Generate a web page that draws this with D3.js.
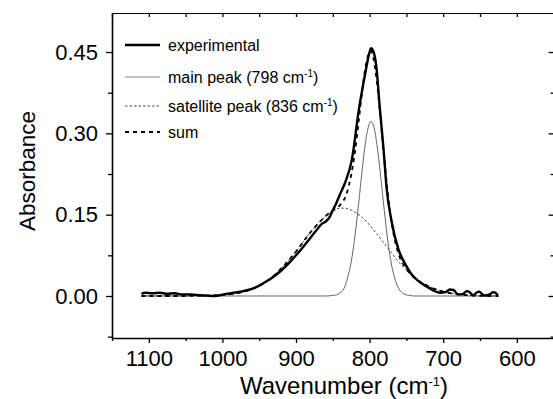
<!DOCTYPE html>
<html>
<head>
<meta charset="utf-8">
<script src="https://cdn.jsdelivr.net/npm/d3@7"></script>
<style>
  html, body { margin: 0; padding: 0; background: #fff; }
  svg text { font-family: "Liberation Sans", Arial, sans-serif; fill: #000; }
</style>
</head>
<body>
<svg id="chart"></svg>
<script>
const width = 553;
const height = 399;

// wavenumber (cm-1) / absorbance
const expWn = [1110, 1105, 1095, 1085, 1075, 1065, 1055, 1045, 1035, 1025, 1015, 1005, 995, 985, 975, 965, 958, 950, 940, 930, 920, 910, 900, 890, 880, 870, 865, 860, 855, 850, 845, 840, 833, 824, 815, 806, 800, 798, 795, 791, 786, 781, 777, 770, 761, 750, 743, 736, 729, 722, 713, 704, 697, 691, 686, 680, 673, 668, 664, 659, 655, 651, 647, 643, 637, 632, 629, 626];
const expAbs = [0.004, 0.006, 0.005, 0.006, 0.004, 0.005, 0.003, 0.003, 0.002, 0.001, 0.000, 0.001, 0.004, 0.006, 0.008, 0.011, 0.014, 0.019, 0.027, 0.036, 0.047, 0.060, 0.075, 0.091, 0.108, 0.125, 0.133, 0.137, 0.144, 0.158, 0.172, 0.188, 0.210, 0.252, 0.340, 0.410, 0.450, 0.457, 0.452, 0.425, 0.345, 0.270, 0.200, 0.137, 0.087, 0.055, 0.040, 0.030, 0.023, 0.017, 0.010, 0.006, 0.007, 0.012, 0.011, 0.003, 0.004, 0.009, 0.007, 0.001, 0.006, 0.008, 0.003, 0.001, 0.003, 0.007, 0.006, 0.001];

const mainWn = [1110, 900, 860, 850, 845, 840, 835, 830, 825, 820, 815, 810, 805, 800, 798, 795, 790, 785, 780, 775, 770, 765, 760, 755, 750, 745, 740, 700, 625];
const mainAbs = [0.000, 0.000, 0.000, 0.001, 0.002, 0.006, 0.013, 0.033, 0.063, 0.110, 0.169, 0.234, 0.289, 0.319, 0.322, 0.316, 0.279, 0.221, 0.157, 0.099, 0.056, 0.029, 0.013, 0.005, 0.002, 0.001, 0.000, 0.000, 0.000];

const satWn = [1110, 1050, 1020, 1000, 980, 960, 940, 920, 900, 880, 860, 850, 840, 836, 830, 820, 810, 800, 790, 780, 770, 760, 750, 740, 730, 720, 700, 680, 660, 640, 625];
const satAbs = [0.000, 0.000, 0.001, 0.002, 0.005, 0.013, 0.027, 0.051, 0.082, 0.118, 0.147, 0.157, 0.162, 0.162, 0.161, 0.155, 0.145, 0.131, 0.114, 0.097, 0.079, 0.062, 0.048, 0.035, 0.025, 0.018, 0.008, 0.003, 0.001, 0.000, 0.000];

const sumWn = [1110, 1080, 1050, 1020, 1000, 980, 960, 940, 920, 900, 880, 860, 850, 840, 830, 820, 815, 810, 805, 800, 798, 795, 790, 785, 780, 775, 770, 760, 750, 740, 730, 720, 700, 680, 660, 640, 625];
const sumAbs = [0.000, 0.000, 0.000, 0.001, 0.002, 0.005, 0.013, 0.027, 0.051, 0.082, 0.118, 0.147, 0.158, 0.168, 0.194, 0.265, 0.320, 0.379, 0.427, 0.450, 0.452, 0.440, 0.393, 0.326, 0.253, 0.187, 0.135, 0.075, 0.050, 0.035, 0.025, 0.018, 0.008, 0.003, 0.001, 0.000, 0.000];

const xMajor = [1100, 1000, 900, 800, 700, 600];
const xMinor = [1150, 1050, 950, 850, 750, 650, 550];
const yMajor = [0, 0.15, 0.30, 0.45];
const yMinor = [-0.075, 0.075, 0.225, 0.375];

const legendItems = ["experimental", "main peak (798 cm", "satellite peak (836 cm", "sum"];

const margin = {left: 112, top: 13, right: 553.6, bottom: 338};

const x = d3.scaleLinear().domain([1150, 550]).range([margin.left, margin.right]);
const y = d3.scaleLinear().domain([-0.0775, 0.522]).range([margin.bottom, margin.top]);

const svg = d3.select("#chart")
    .attr("width", width)
    .attr("height", height);

const zip = (a, b) => a.map((v, i) => [v, b[i]]);

const line = d3.line()
    .x(d => x(d[0]))
    .y(d => y(d[1]))
    .curve(d3.curveMonotoneX);

// curves
svg.append("path").datum(zip(mainWn, mainAbs))
    .attr("d", line).attr("fill", "none")
    .attr("stroke", "#555").attr("stroke-width", 0.9);

svg.append("path").datum(zip(satWn, satAbs))
    .attr("d", line).attr("fill", "none")
    .attr("stroke", "#333").attr("stroke-width", 0.9)
    .attr("stroke-dasharray", "2.5,2");

svg.append("path").datum(zip(expWn, expAbs))
    .attr("d", line).attr("fill", "none")
    .attr("stroke", "#000").attr("stroke-width", 2.4)
    .attr("stroke-linejoin", "round");

svg.append("path").datum(zip(sumWn, sumAbs))
    .attr("d", line).attr("fill", "none")
    .attr("stroke", "#000").attr("stroke-width", 1.8)
    .attr("stroke-dasharray", "4,4");

// axes
const fmt = d3.format(".2f");

const styleAxis = g => {
    g.select(".domain").attr("stroke", "#000").attr("stroke-width", 1.6);
    g.selectAll(".tick line").attr("stroke", "#000").attr("stroke-width", 1.3);
};

const bottom = svg.append("g").attr("transform", `translate(0,${margin.bottom})`)
    .call(d3.axisBottom(x).tickValues(xMajor).tickFormat(d3.format("d")).tickSize(5).tickSizeOuter(0).tickPadding(7))
    .call(styleAxis);
bottom.selectAll("text").attr("font-size", 22).attr("font-family", "Liberation Sans, Arial, sans-serif");
svg.append("g").attr("transform", `translate(0,${margin.bottom})`)
    .call(d3.axisBottom(x).tickValues(xMinor).tickSize(3).tickFormat(""))
    .call(g => g.select(".domain").remove())
    .call(styleAxis);

const left = svg.append("g").attr("transform", `translate(${margin.left},0)`)
    .call(d3.axisLeft(y).tickValues(yMajor).tickFormat(fmt).tickSize(6).tickSizeOuter(0).tickPadding(8))
    .call(styleAxis);
left.selectAll("text").attr("font-size", 22).attr("font-family", "Liberation Sans, Arial, sans-serif");
svg.append("g").attr("transform", `translate(${margin.left},0)`)
    .call(d3.axisLeft(y).tickValues(yMinor).tickSize(4).tickFormat(""))
    .call(g => g.select(".domain").remove())
    .call(styleAxis);

// top and right mirror axes, ticks pointing inward
svg.append("g").attr("transform", `translate(0,${margin.top})`)
    .call(d3.axisBottom(x).tickValues(xMajor.concat(xMinor)).tickSize(4).tickSizeOuter(0).tickFormat(""))
    .call(styleAxis)
    .call(g => g.select(".domain").attr("stroke-width", 1.2));

svg.append("g").attr("transform", `translate(${margin.right},0)`)
    .call(d3.axisLeft(y).tickValues(yMajor).tickSize(5).tickSizeOuter(0).tickFormat(""))
    .call(styleAxis);
svg.append("g").attr("transform", `translate(${margin.right},0)`)
    .call(d3.axisLeft(y).tickValues(yMinor).tickSize(3).tickFormat(""))
    .call(g => g.select(".domain").remove())
    .call(styleAxis);

// axis titles
const xt = svg.append("text")
    .attr("x", 344)
    .attr("y", 394)
    .attr("text-anchor", "middle")
    .attr("font-size", 24);
xt.append("tspan").text("Wavenumber (cm");
xt.append("tspan").attr("font-size", 13).attr("dy", -8).text("-1");
xt.append("tspan").attr("dy", 8).text(")");

svg.append("text")
    .attr("transform", "translate(35,171) rotate(-90)")
    .attr("text-anchor", "middle")
    .attr("font-size", 22.5)
    .text("Absorbance");

// legend
const legendY = [45, 77, 106, 132];
const legendStyles = [
    {stroke: "#000", w: 2.4, dash: null},
    {stroke: "#777", w: 0.9, dash: null},
    {stroke: "#333", w: 0.9, dash: "2.5,2"},
    {stroke: "#000", w: 1.8, dash: "4,4"}
];
const legend = svg.append("g");
legendItems.forEach((label, i) => {
    const st = legendStyles[i];
    legend.append("line")
        .attr("x1", 125).attr("x2", 160)
        .attr("y1", legendY[i]).attr("y2", legendY[i])
        .attr("stroke", st.stroke).attr("stroke-width", st.w)
        .attr("stroke-dasharray", st.dash);
    const t = legend.append("text")
        .attr("x", 168).attr("y", legendY[i] + 6)
        .attr("font-size", 16);
    t.append("tspan").text(label);
    if (i === 1 || i === 2) {
        t.append("tspan").attr("font-size", 10).attr("dy", -6).text("-1");
        t.append("tspan").attr("dy", 6).text(")");
    }
});
</script>
</body>
</html>
